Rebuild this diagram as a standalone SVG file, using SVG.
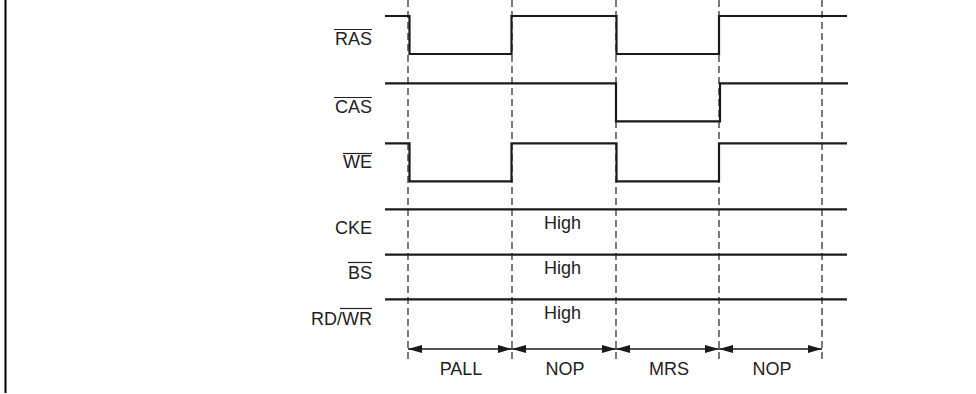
<svg xmlns="http://www.w3.org/2000/svg" width="976" height="394" viewBox="0 0 976 394">
<style>
.sig{fill:none;stroke:#1a1a1a;stroke-width:2.2;stroke-linejoin:miter}
.dash{stroke:#333;stroke-width:1.3;stroke-dasharray:7,4}
.lbl{font-family:"Liberation Sans",Arial,sans-serif;font-size:18px;fill:#222}
.ol{stroke:#222;stroke-width:1.2}
.arr{stroke:#1a1a1a;stroke-width:1.3;fill:none;marker-start:url(#ah);marker-end:url(#ah)}
</style>
<defs>
<marker id="ah" viewBox="0 0 14 8" refX="14" refY="4" markerWidth="14" markerHeight="8" markerUnits="userSpaceOnUse" orient="auto-start-reverse">
<path d="M0,0 L14,4 L0,8 Z" fill="#1a1a1a"/>
</marker>
</defs>
<rect width="976" height="394" fill="#fff"/>
<line x1="5.5" y1="0" x2="5.5" y2="393" stroke="#000" stroke-width="2"/>
<g id="connectors">
<line class="dash" x1="408" y1="0" x2="408" y2="361"/>
<line class="dash" x1="512" y1="0" x2="512" y2="361"/>
<line class="dash" x1="616" y1="0" x2="616" y2="361"/>
<line class="dash" x1="719" y1="0" x2="719" y2="361"/>
<line class="dash" x1="822" y1="0" x2="822" y2="361"/>
<line class="arr" x1="408" y1="349" x2="512" y2="349"/>
<line class="arr" x1="512" y1="349" x2="616" y2="349"/>
<line class="arr" x1="616" y1="349" x2="719" y2="349"/>
<line class="arr" x1="719" y1="349" x2="822" y2="349"/>
</g>
<g id="RAS">
<text class="lbl" x="372" y="45" text-anchor="end">RAS</text>
<line class="ol" x1="334" y1="29.5" x2="372" y2="29.5"/>
<polyline class="sig" points="385,16 409.5,16 409.5,54 511.5,54 511.5,16 616.5,16 616.5,54 719,54 719,16 847,16"/>
</g>
<g id="CAS">
<text class="lbl" x="372" y="113" text-anchor="end">CAS</text>
<line class="ol" x1="334" y1="97.5" x2="372" y2="97.5"/>
<polyline class="sig" points="385,83.3 616,83.3 616,121.3 720,121.3 720,83.3 848,83.3"/>
</g>
<g id="WE">
<text class="lbl" x="372" y="168" text-anchor="end">WE</text>
<line class="ol" x1="343" y1="153.5" x2="372" y2="153.5"/>
<polyline class="sig" points="385,143.3 409.5,143.3 409.5,181.3 511.5,181.3 511.5,143.3 616.5,143.3 616.5,181.3 719,181.3 719,143.3 847,143.3"/>
</g>
<g id="CKE">
<text class="lbl" x="372" y="234" text-anchor="end">CKE</text>
<line class="sig" x1="385" y1="209.3" x2="847" y2="209.3"/>
<text class="lbl" x="544" y="229">High</text>
</g>
<g id="BS">
<text class="lbl" x="372" y="279" text-anchor="end">BS</text>
<line class="ol" x1="348" y1="262.5" x2="372" y2="262.5"/>
<line class="sig" x1="385" y1="254.7" x2="847" y2="254.7"/>
<text class="lbl" x="544" y="274">High</text>
</g>
<g id="RDWR">
<text class="lbl" x="372" y="325" text-anchor="end">RD/WR</text>
<line class="ol" x1="340" y1="308.5" x2="372" y2="308.5"/>
<line class="sig" x1="385" y1="299.3" x2="847" y2="299.3"/>
<text class="lbl" x="544" y="319">High</text>
</g>
<g id="phases">
<text class="lbl" x="461" y="375" text-anchor="middle">PALL</text>
<text class="lbl" x="565" y="375" text-anchor="middle">NOP</text>
<text class="lbl" x="669" y="375" text-anchor="middle">MRS</text>
<text class="lbl" x="772" y="375" text-anchor="middle">NOP</text>
</g>
</svg>
